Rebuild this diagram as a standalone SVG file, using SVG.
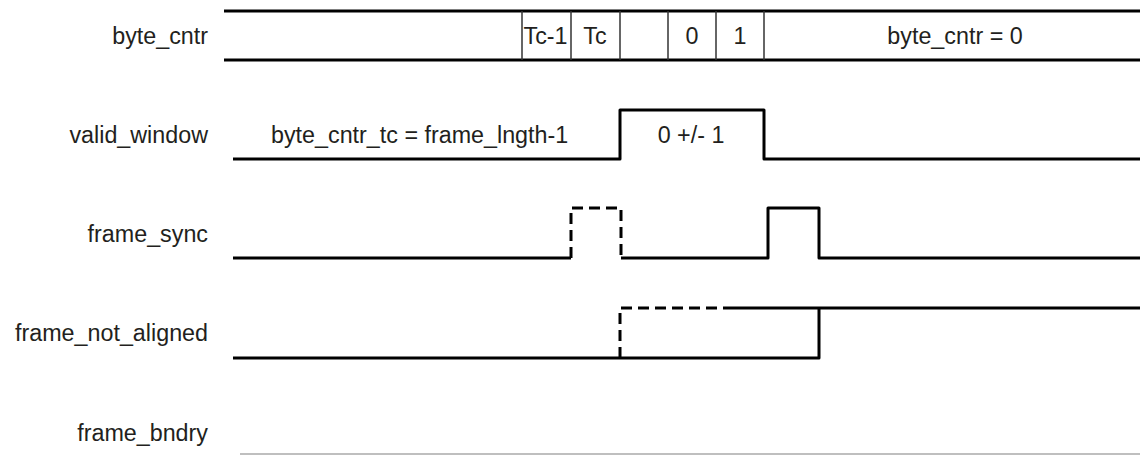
<svg xmlns="http://www.w3.org/2000/svg" width="1140" height="455" viewBox="0 0 1140 455">
<style>
text{font-family:"Liberation Sans",Arial,sans-serif;font-size:23.3px;fill:#231f20}
.lbl{text-anchor:end}
.mid{text-anchor:middle}
.w{fill:none;stroke:#000;stroke-width:3;stroke-linejoin:round}
.d{fill:none;stroke:#000;stroke-width:3;stroke-dasharray:11 6}
.div{stroke:#333;stroke-width:1.5}
</style>
<rect width="1140" height="455" fill="#fff"/>
<g id="byte_cntr">
<text class="lbl" x="208" y="44">byte_cntr</text>
<line class="w" x1="224" y1="11" x2="1140" y2="11"/>
<line class="w" x1="224" y1="60" x2="1140" y2="60"/>
<line class="div" x1="522" y1="11" x2="522" y2="60"/>
<line class="div" x1="571" y1="11" x2="571" y2="60"/>
<line class="div" x1="620" y1="11" x2="620" y2="60"/>
<line class="div" x1="668" y1="11" x2="668" y2="60"/>
<line class="div" x1="716" y1="11" x2="716" y2="60"/>
<line class="div" x1="764" y1="11" x2="764" y2="60"/>
<text class="mid" x="545.5" y="44">Tc-1</text>
<text class="mid" x="595" y="44">Tc</text>
<text class="mid" x="692" y="44">0</text>
<text class="mid" x="740" y="44">1</text>
<text class="mid" x="955" y="44">byte_cntr = 0</text>
</g>
<g id="valid_window">
<text class="lbl" x="208" y="143">valid_window</text>
<path class="w" d="M233,159 H620 V110 H764 V159 H1140"/>
<text x="271" y="143">byte_cntr_tc = frame_lngth-1</text>
<text class="mid" x="691" y="143">0 +/- 1</text>
</g>
<g id="frame_sync">
<text class="lbl" x="208" y="242">frame_sync</text>
<path class="w" d="M233,258 H571"/>
<path class="d" d="M571,258 V208 H621 V258"/>
<path class="w" d="M621,258 H768 V208 H819 V258 H1140"/>
</g>
<g id="frame_not_aligned">
<text class="lbl" x="208" y="341">frame_not_aligned</text>
<path class="w" d="M233,358 H819 V308"/>
<path class="d" d="M620,358 V308 H732"/>
<path class="w" d="M732,308 H1140"/>
</g>
<g id="frame_bndry">
<text class="lbl" x="208" y="441">frame_bndry</text>
<line x1="240" y1="454" x2="1140" y2="454" stroke="#aaa" stroke-width="1.5"/>
</g>
</svg>
